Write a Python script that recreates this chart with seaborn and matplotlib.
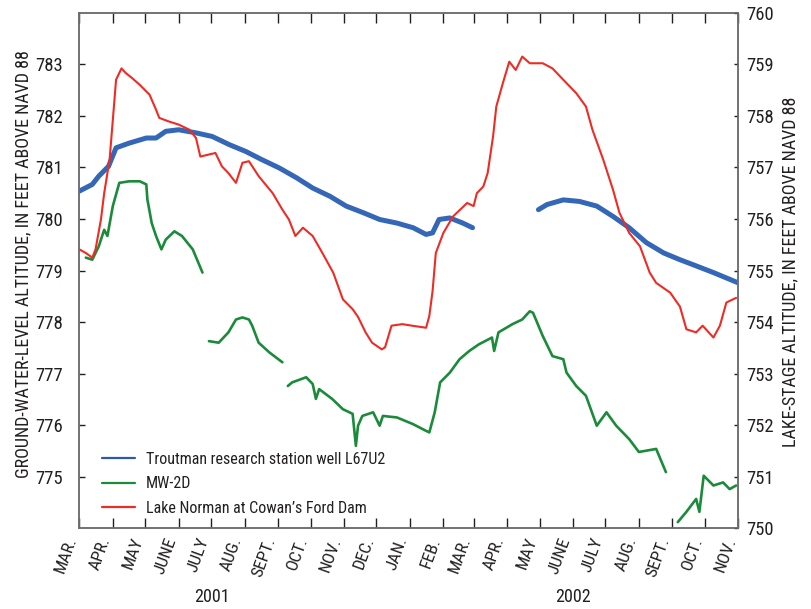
import pandas as pd
import matplotlib
matplotlib.use("Agg")
import matplotlib.pyplot as plt
import matplotlib.dates as mdates
import matplotlib.transforms as mtransforms
from matplotlib import font_manager as fm
from matplotlib.lines import Line2D
import seaborn as sns

sns.set_style("ticks")

# Narrow sans-serif face for all text, falling back to DejaVu Sans
available = {f.name for f in fm.fontManager.ttflist}
family = next((f for f in ["Liberation Sans Narrow", "Roboto Condensed", "Arial Narrow"]
               if f in available), "Liberation Sans")
plt.rcParams["font.family"] = [family, "DejaVu Sans"]

# ---------------------------------------------------------------------------
# Troutman research station well L67U2 (ground-water level, ft above NAVD 88)
well_dates = ["2001-03-01", "2001-03-13", "2001-03-19", "2001-03-28", "2001-04-04",
              "2001-04-16", "2001-05-02", "2001-05-11", "2001-05-20", "2001-06-01",
              "2001-06-17", "2001-07-02", "2001-07-18", "2001-08-02", "2001-08-17",
              "2001-09-02", "2001-09-18", "2001-10-03", "2001-10-19", "2001-11-03",
              "2001-11-19", "2001-12-04", "2001-12-20", "2002-01-04", "2002-01-16",
              "2002-01-22", "2002-01-28", "2002-02-07", "2002-02-19", "2002-02-28",
              "2002-04-30", "2002-05-08", "2002-05-23", "2002-06-07", "2002-06-23",
              "2002-07-08", "2002-07-23", "2002-08-08", "2002-08-24", "2002-09-08",
              "2002-09-23", "2002-10-09", "2002-10-24", "2002-11-01"]
well_level = [780.54, 780.67, 780.83, 781.02, 781.38, 781.47, 781.57, 781.57, 781.70, 781.73,
              781.67, 781.60, 781.44, 781.31, 781.15, 780.99, 780.80, 780.60, 780.44, 780.25,
              780.12, 779.99, 779.92, 779.83, 779.70, 779.73, 779.99, 780.02, 779.92, 779.83,
              780.18, 780.28, 780.37, 780.34, 780.25, 780.05, 779.83, 779.54, 779.34, 779.21,
              779.09, 778.96, 778.83, 778.76]
well_segment = [1] * 30 + [2] * 14

# MW-2D (ground-water level, ft above NAVD 88)
mw_dates = ["2001-03-07", "2001-03-13", "2001-03-19", "2001-03-24", "2001-03-27",
            "2001-04-01", "2001-04-07", "2001-04-16", "2001-04-26", "2001-05-02",
            "2001-05-03", "2001-05-07", "2001-05-11", "2001-05-16", "2001-05-20",
            "2001-05-28", "2001-06-04", "2001-06-14", "2001-06-23",
            "2001-06-29", "2001-07-08", "2001-07-17", "2001-07-24", "2001-07-30",
            "2001-08-05", "2001-08-08", "2001-08-14", "2001-08-24", "2001-09-05",
            "2001-09-10", "2001-09-14", "2001-09-27", "2001-10-03", "2001-10-06",
            "2001-10-09", "2001-10-21", "2001-10-31", "2001-11-09", "2001-11-12",
            "2001-11-14", "2001-11-18", "2001-11-28", "2001-12-04", "2001-12-07",
            "2001-12-20", "2002-01-04", "2002-01-16", "2002-01-19", "2002-01-24",
            "2002-01-29", "2002-02-07", "2002-02-16", "2002-02-25", "2002-03-06",
            "2002-03-18", "2002-03-20", "2002-03-24", "2002-04-06", "2002-04-15",
            "2002-04-22", "2002-04-25", "2002-05-04", "2002-05-13", "2002-05-23",
            "2002-05-26", "2002-06-04", "2002-06-13", "2002-06-23", "2002-07-02",
            "2002-07-11", "2002-07-23", "2002-08-01", "2002-08-17", "2002-08-26",
            "2002-09-06", "2002-09-14", "2002-09-23", "2002-09-26", "2002-09-30",
            "2002-10-09", "2002-10-18", "2002-10-24", "2002-10-30"]
mw_level = [779.25, 779.21, 779.47, 779.79, 779.67, 780.25, 780.70, 780.73, 780.73, 780.67,
            780.38, 779.92, 779.67, 779.41, 779.60, 779.76, 779.67, 779.41, 778.96,
            777.63, 777.60, 777.80, 778.05, 778.09, 778.05, 777.93, 777.60, 777.41, 777.22,
            776.76, 776.83, 776.93, 776.80, 776.51, 776.70, 776.51, 776.31, 776.22, 775.60,
            775.99, 776.18, 776.25, 775.99, 776.18, 776.15, 776.02, 775.89, 775.86, 776.25,
            776.83, 777.02, 777.28, 777.44, 777.57, 777.70, 777.44, 777.80, 777.96, 778.05,
            778.21, 778.18, 777.73, 777.34, 777.28, 777.02, 776.76, 776.57, 775.99, 776.25,
            775.99, 775.73, 775.48, 775.54, 775.09,
            774.12, 774.32, 774.57, 774.32, 775.02, 774.83, 774.89, 774.76, 774.83]
mw_segment = [1] * 19 + [2] * 10 + [3] * 45 + [4] * 9

# Lake Norman at Cowan's Ford Dam (lake stage, ft above NAVD 88)
lake_dates = ["2001-03-01", "2001-03-07", "2001-03-13", "2001-03-16", "2001-03-21",
              "2001-03-24", "2001-03-29", "2001-04-01", "2001-04-04", "2001-04-09",
              "2001-04-13", "2001-04-19", "2001-04-26", "2001-05-05", "2001-05-11",
              "2001-05-14", "2001-05-23", "2001-06-01", "2001-06-11", "2001-06-17",
              "2001-06-21", "2001-06-29", "2001-07-05", "2001-07-11", "2001-07-17",
              "2001-07-24", "2001-07-30", "2001-08-05", "2001-08-14", "2001-08-27",
              "2001-09-05", "2001-09-11", "2001-09-17", "2001-09-24", "2001-10-03",
              "2001-10-12", "2001-10-22", "2001-10-31", "2001-11-09", "2001-11-14",
              "2001-11-21", "2001-11-27", "2001-12-06", "2001-12-09", "2001-12-15",
              "2001-12-25", "2002-01-03", "2002-01-16", "2002-01-19", "2002-01-22",
              "2002-01-25", "2002-02-01", "2002-02-10", "2002-02-23", "2002-03-01",
              "2002-03-04", "2002-03-10", "2002-03-14", "2002-03-19", "2002-03-22",
              "2002-03-28", "2002-04-03", "2002-04-09", "2002-04-15", "2002-04-22",
              "2002-05-04", "2002-05-13", "2002-05-23", "2002-06-04", "2002-06-13",
              "2002-06-19", "2002-06-29", "2002-07-08", "2002-07-14", "2002-07-23",
              "2002-08-02", "2002-08-11", "2002-08-17", "2002-08-30", "2002-09-08",
              "2002-09-14", "2002-09-23", "2002-09-29", "2002-10-09", "2002-10-15",
              "2002-10-21", "2002-10-30"]
lake_stage = [755.41, 755.34, 755.25, 755.41, 755.99, 756.50, 757.15, 757.92, 758.70, 758.92,
              758.83, 758.73, 758.60, 758.41, 758.12, 757.96, 757.89, 757.83, 757.73, 757.57,
              757.21, 757.25, 757.28, 757.02, 756.89, 756.70, 757.09, 757.12, 756.83, 756.50,
              756.18, 755.99, 755.67, 755.83, 755.67, 755.34, 754.96, 754.44, 754.25, 754.10,
              753.80, 753.60, 753.47, 753.51, 753.93, 753.96, 753.93, 753.89, 754.12, 754.60,
              755.34, 755.73, 756.05, 756.31, 756.25, 756.50, 756.63, 756.89, 757.60, 758.18,
              758.63, 759.05, 758.89, 759.15, 759.02, 759.02, 758.92, 758.70, 758.44, 758.18,
              757.73, 757.15, 756.57, 756.12, 755.73, 755.47, 754.96, 754.76, 754.57, 754.30,
              753.86, 753.80, 753.93, 753.70, 753.93, 754.38, 754.47]

month_labels = ["MAR.", "APR.", "MAY", "JUNE", "JULY", "AUG.", "SEPT.", "OCT.", "NOV.",
                "DEC.", "JAN.", "FEB.", "MAR.", "APR.", "MAY", "JUNE", "JULY", "AUG.",
                "SEPT.", "OCT.", "NOV."]
year_labels = ["2001", "2002"]
series_names = ["Troutman research station well L67U2", "MW-2D",
                "Lake Norman at Cowan\u2019s Ford Dam"]
# ---------------------------------------------------------------------------

well = pd.DataFrame({"date": pd.to_datetime(well_dates), "level": well_level,
                     "segment": well_segment})
mw = pd.DataFrame({"date": pd.to_datetime(mw_dates), "level": mw_level,
                   "segment": mw_segment})
lake = pd.DataFrame({"date": pd.to_datetime(lake_dates), "stage": lake_stage})

BLUE = "#3467b8"
GREEN = "#1b8b3b"
RED = "#ee2b24"
SPINE = "#6d6e71"
TEXT = "#231f20"

fig = plt.figure(figsize=(8.12, 6.09), dpi=100)
ax = fig.add_axes([0.0977, 0.1325, 0.8115, 0.8466])
ax2 = ax.twinx()

sns.lineplot(data=well, x="date", y="level", units="segment", estimator=None,
             color=BLUE, linewidth=3.6, ax=ax, legend=False)
sns.lineplot(data=mw, x="date", y="level", units="segment", estimator=None,
             color=GREEN, linewidth=1.9, ax=ax, legend=False)
sns.lineplot(data=lake, x="date", y="stage", estimator=None,
             color=RED, linewidth=1.5, ax=ax2, legend=False)

start, end = pd.Timestamp("2001-03-01"), pd.Timestamp("2002-11-01")
ax.set_xlim(start, end)
ax.set_ylim(774, 784)
ax2.set_ylim(750, 760)
ax.set_yticks(range(775, 784))
ax2.set_yticks(range(750, 761))
ax.set_xlabel("")
ax.set_ylabel("")
ax2.set_ylabel("")

ax.xaxis.set_major_locator(mdates.MonthLocator())
ax.tick_params(axis="x", which="major", direction="in", length=7.2, width=1.0,
               color=TEXT, top=True, bottom=True, labelbottom=False)
ax.tick_params(axis="y", direction="in", length=4.5, width=1.0, color=TEXT,
               pad=11.5, labelsize=13.4, labelcolor=TEXT, right=False)
ax2.tick_params(axis="y", direction="in", length=3.0, width=1.0, color=TEXT,
                pad=6, labelsize=13.4, labelcolor=TEXT, left=False)

for a in (ax, ax2):
    for s in a.spines.values():
        s.set_color(SPINE)
        s.set_linewidth(1.1)

# Month names hang below each month-start tick
trans = mtransforms.blended_transform_factory(ax.transData, ax.transAxes)
months = pd.date_range(start, end, freq="MS")
for d, lab in zip(months, month_labels):
    ax.text(mdates.date2num(d), -0.0136, lab, transform=trans, rotation=70,
            ha="right", va="top", fontsize=12.5, color=TEXT)

fig.text(212 / 812, 1 - 597 / 609, year_labels[0], ha="center", va="center",
         fontsize=13, color=TEXT)
fig.text(573 / 812, 1 - 597 / 609, year_labels[1], ha="center", va="center",
         fontsize=13, color=TEXT)

fig.text(23.7 / 812, 1 - 264 / 609,
         "GROUND-WATER-LEVEL ALTITUDE, IN FEET ABOVE NAVD 88",
         rotation=90, ha="center", va="center", fontsize=13, color=TEXT)
fig.text(790 / 812, 1 - 272 / 609,
         "LAKE-STAGE ALTITUDE, IN FEET ABOVE NAVD 88",
         rotation=90, ha="center", va="center", fontsize=13, color=TEXT)

handles = [Line2D([], [], color=c, linewidth=1.6) for c in ("#2c5aa8", GREEN, RED)]
ax.legend(handles, series_names, loc="upper left", bbox_to_anchor=(0.0337, 0.148),
          frameon=False, fontsize=11.5, handlelength=2.07, handletextpad=0.72,
          labelspacing=0.58, borderpad=0, borderaxespad=0, labelcolor=TEXT)

fig.savefig("out.png", dpi=100)
